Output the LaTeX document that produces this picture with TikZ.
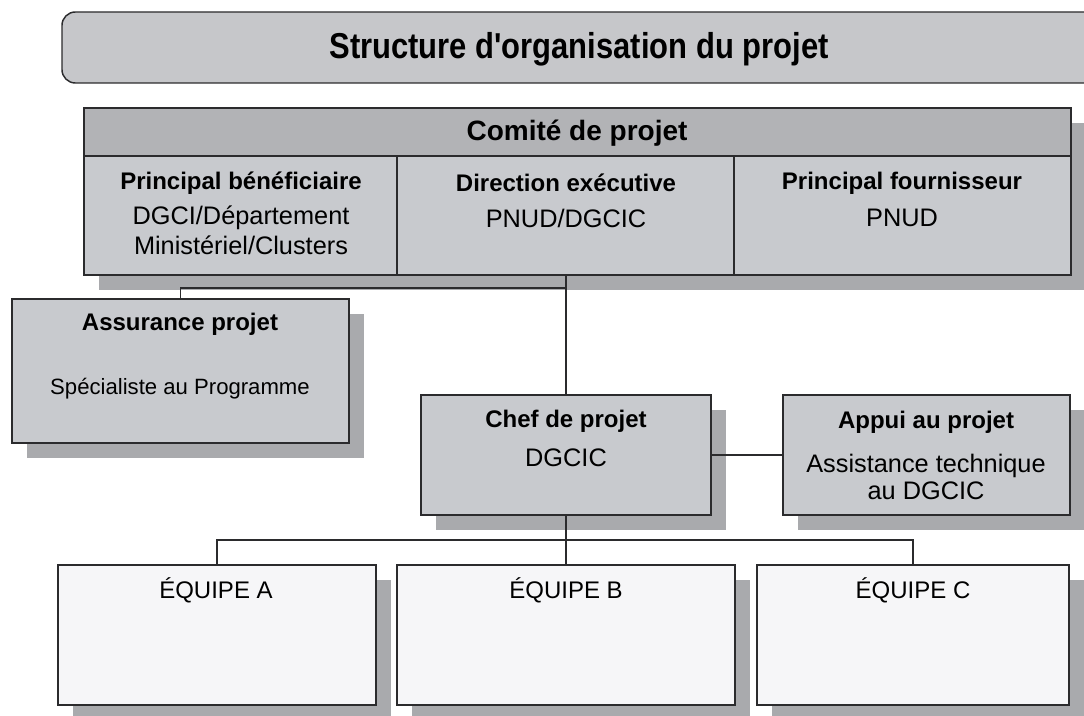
\documentclass[tikz,border=0pt]{standalone}
\usepackage{fontspec}
\setmainfont{Liberation Sans}
\newfontfamily\narrowsans[FakeStretch=0.86]{Liberation Sans}
\usetikzlibrary{fit,shadows}
\definecolor{edge}{HTML}{2B2B2D}
\definecolor{boxgray}{HTML}{C8CACE}
\definecolor{headgray}{HTML}{B2B3B6}
\definecolor{titlegray}{HTML}{C6C7CA}
\definecolor{shade}{HTML}{A9AAAD}
\definecolor{teamfill}{HTML}{F6F6F8}
\begin{document}
\begin{tikzpicture}[x=0.75pt,y=-0.75pt,
  box/.style={draw=edge,line width=1.1pt,fill=boxgray,inner sep=0pt,
    drop shadow={shadow xshift=11pt,shadow yshift=-11pt,fill=shade,opacity=1}},
  team/.style={box,fill=teamfill},
  ttlbox/.style={draw=edge,line width=1.1pt,fill=titlegray,rounded corners=10pt,inner sep=0pt},
  hd/.style={inner sep=0pt,font=\bfseries\fontsize{18}{21}\selectfont},
  tx/.style={inner sep=0pt,font=\fontsize{19}{22}\selectfont},
  link/.style={draw=edge,line width=1.1pt}]
  \useasboundingbox (0,0) rectangle (1084,716);
  % title bar
  \node[ttlbox,fit={(62,12) (1110,83)}] (ttl) {};
  \node[inner sep=0pt,font=\narrowsans\bfseries\fontsize{27}{30}\selectfont] (ttltxt) at (579,49) {Structure d'organisation du projet};
  % the project board
  \node[box,fill=headgray,fit={(84,108) (1071,156)}] (com) {};
  \node[box,fit={(84,156) (397,275)}] (com1) {};
  \node[box,fit={(397,156) (734,275)}] (com2) {};
  \node[box,fit={(734,156) (1071,275)}] (com3) {};
  \node[inner sep=0pt,font=\bfseries\fontsize{21}{24}\selectfont] (comtxt) at (577,133) {Comité de projet};
  \node[hd] (ben) at (241,183) {Principal bénéficiaire};
  \node[tx] (ben1) at (241,218) {DGCI/Département};
  \node[tx] (ben2) at (241,245) {Ministériel/Clusters};
  \node[hd] (dir) at (566,183) {Direction exécutive};
  \node[tx] (dir1) at (566,218) {PNUD/DGCIC};
  \node[hd] (four) at (902,183) {Principal fournisseur};
  \node[tx] (four1) at (902,218) {PNUD};
  % assurance, manager, support
  \node[box,fit={(12,299) (349,443)}] (asr) {};
  \node[hd] (asrtxt) at (180,324) {Assurance projet};
  \node[tx,font=\fontsize{16.6}{20}\selectfont] (asr1) at (180,389) {Spécialiste au Programme};
  \node[box,fit={(421,395) (711,515)}] (chef) {};
  \node[hd] (cheftxt) at (566,421) {Chef de projet};
  \node[tx] (chef1) at (566,458) {DGCIC};
  \node[box,fit={(783,395) (1070,515)}] (app) {};
  \node[hd] (apptxt) at (926,422) {Appui au projet};
  \node[tx] (app1) at (926,466) {Assistance technique};
  \node[tx] (app2) at (926,491) {au DGCIC};
  % the teams
  \node[team,fit={(58,565) (376,705)}] (ta) {};
  \node[team,fit={(397,565) (735,705)}] (tb) {};
  \node[team,fit={(757,565) (1069,705)}] (tc) {};
  \node[tx,font=\fontsize{18}{21}\selectfont] (tatxt) at (216,590) {ÉQUIPE A};
  \node[tx,font=\fontsize{18}{21}\selectfont] (tbtxt) at (566,590) {ÉQUIPE B};
  \node[tx,font=\fontsize{18}{21}\selectfont] (tctxt) at (913,590) {ÉQUIPE C};
  % links
  \coordinate (j1) at (566,288);
  \coordinate (j2) at (566,540);
  \draw[link] (chef.north) -- (chef.north |- com2.south);
  \draw[link] (asr.north) |- (j1);
  \draw[link] (chef) -- (app);
  \draw[link] (chef.south) -- (j2);
  \draw[link] (ta.north) |- (j2) -| (tc.north);
  \draw[link] (tb.north) -- (j2);
\end{tikzpicture}
\end{document}
